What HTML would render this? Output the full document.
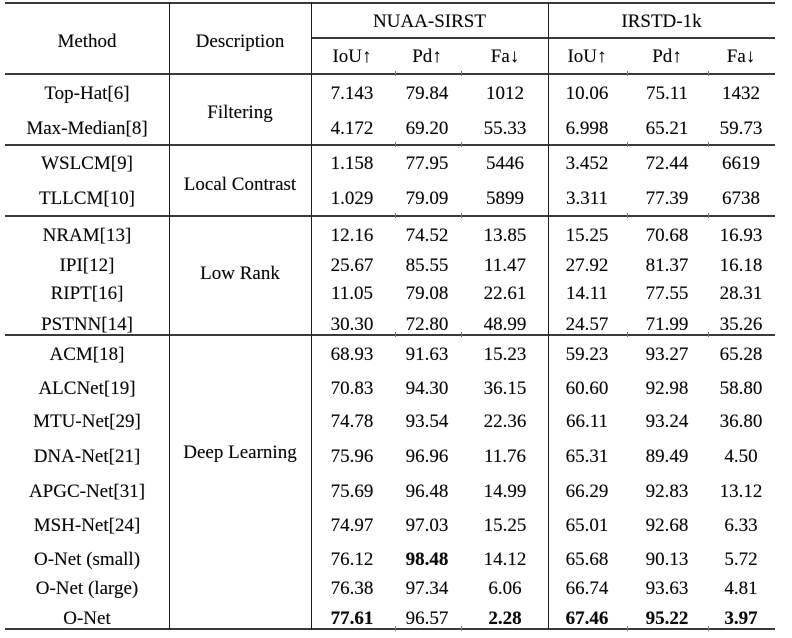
<!DOCTYPE html>
<html><head><meta charset="utf-8">
<style>
html,body{margin:0;padding:0;background:#fff;}
#w{position:relative;width:792px;height:638px;overflow:hidden;background:#fff;font-family:"Liberation Serif",serif;font-size:19px;color:#0a0a0a;}
.t{position:absolute;line-height:19px;height:19px;text-align:center;white-space:nowrap;text-shadow:0 0 0.6px rgba(0,0,0,0.55);}
.h{position:absolute;height:2px;background:#3a3a3a;}
.v{position:absolute;width:1px;background:#1e1e1e;top:2px;height:628px;}
.k{position:absolute;width:1px;height:5px;background:#777;}
b{font-weight:bold;}
</style></head><body><div id="w">
<!-- horizontal rules -->
<div class="h" style="left:5px;width:770px;top:2px;"></div>
<div class="h" style="left:311px;width:464px;top:37px;"></div>
<div class="h" style="left:5px;width:770px;top:73px;"></div>
<div class="h" style="left:5px;width:770px;top:144px;"></div>
<div class="h" style="left:5px;width:770px;top:215px;"></div>
<div class="h" style="left:5px;width:770px;top:334px;"></div>
<div class="h" style="left:5px;width:770px;top:628px;"></div>
<!-- vertical rules -->
<div class="v" style="left:169px;"></div>
<div class="v" style="left:311px;"></div>
<div class="v" style="left:548px;"></div>
<!-- ticks -->
<div class="k" style="left:395px;top:71px"></div><div class="k" style="left:461px;top:71px"></div><div class="k" style="left:627px;top:71px"></div><div class="k" style="left:708px;top:71px"></div>
<div class="k" style="left:395px;top:142px"></div><div class="k" style="left:461px;top:142px"></div><div class="k" style="left:627px;top:142px"></div><div class="k" style="left:708px;top:142px"></div>
<div class="k" style="left:395px;top:213px"></div><div class="k" style="left:461px;top:213px"></div><div class="k" style="left:627px;top:213px"></div><div class="k" style="left:708px;top:213px"></div>
<div class="k" style="left:395px;top:332px"></div><div class="k" style="left:461px;top:332px"></div><div class="k" style="left:627px;top:332px"></div><div class="k" style="left:708px;top:332px"></div>
<div class="k" style="left:395px;top:626px"></div><div class="k" style="left:461px;top:626px"></div><div class="k" style="left:627px;top:626px"></div><div class="k" style="left:708px;top:626px"></div>

<!-- header -->
<div class="t" style="left:5px;width:164px;top:32px;">Method</div>
<div class="t" style="left:169px;width:142px;top:32px;">Description</div>
<div class="t" style="left:311px;width:237px;top:12px;">NUAA-SIRST</div>
<div class="t" style="left:548px;width:227px;top:12px;">IRSTD-1k</div>
<div class="t" style="left:312px;width:80px;top:47px;">IoU↑</div>
<div class="t" style="left:395px;width:64px;top:47px;">Pd↑</div>
<div class="t" style="left:465px;width:80px;top:47px;">Fa↓</div>
<div class="t" style="left:547px;width:80px;top:47px;">IoU↑</div>
<div class="t" style="left:627px;width:80px;top:47px;">Pd↑</div>
<div class="t" style="left:701px;width:80px;top:47px;">Fa↓</div>

<!-- descriptions -->
<div class="t" style="left:169px;width:142px;top:103px;">Filtering</div>
<div class="t" style="left:169px;width:142px;top:175px;">Local Contrast</div>
<div class="t" style="left:169px;width:142px;top:264px;">Low Rank</div>
<div class="t" style="left:169px;width:142px;top:443px;">Deep Learning</div>

<!-- rows -->
<div style="position:absolute;left:0;top:84px;width:792px;height:19px;">
<div class="t" style="left:5px;width:164px;">Top-Hat[6]</div><div class="t" style="left:312px;width:80px;">7.143</div><div class="t" style="left:395px;width:64px;">79.84</div><div class="t" style="left:465px;width:80px;">1012</div><div class="t" style="left:547px;width:80px;">10.06</div><div class="t" style="left:627px;width:80px;">75.11</div><div class="t" style="left:701px;width:80px;">1432</div></div>
<div style="position:absolute;left:0;top:119px;width:792px;height:19px;">
<div class="t" style="left:5px;width:164px;">Max-Median[8]</div><div class="t" style="left:312px;width:80px;">4.172</div><div class="t" style="left:395px;width:64px;">69.20</div><div class="t" style="left:465px;width:80px;">55.33</div><div class="t" style="left:547px;width:80px;">6.998</div><div class="t" style="left:627px;width:80px;">65.21</div><div class="t" style="left:701px;width:80px;">59.73</div></div>
<div style="position:absolute;left:0;top:154px;width:792px;height:19px;">
<div class="t" style="left:5px;width:164px;">WSLCM[9]</div><div class="t" style="left:312px;width:80px;">1.158</div><div class="t" style="left:395px;width:64px;">77.95</div><div class="t" style="left:465px;width:80px;">5446</div><div class="t" style="left:547px;width:80px;">3.452</div><div class="t" style="left:627px;width:80px;">72.44</div><div class="t" style="left:701px;width:80px;">6619</div></div>
<div style="position:absolute;left:0;top:189px;width:792px;height:19px;">
<div class="t" style="left:5px;width:164px;">TLLCM[10]</div><div class="t" style="left:312px;width:80px;">1.029</div><div class="t" style="left:395px;width:64px;">79.09</div><div class="t" style="left:465px;width:80px;">5899</div><div class="t" style="left:547px;width:80px;">3.311</div><div class="t" style="left:627px;width:80px;">77.39</div><div class="t" style="left:701px;width:80px;">6738</div></div>
<div style="position:absolute;left:0;top:226px;width:792px;height:19px;">
<div class="t" style="left:5px;width:164px;">NRAM[13]</div><div class="t" style="left:312px;width:80px;">12.16</div><div class="t" style="left:395px;width:64px;">74.52</div><div class="t" style="left:465px;width:80px;">13.85</div><div class="t" style="left:547px;width:80px;">15.25</div><div class="t" style="left:627px;width:80px;">70.68</div><div class="t" style="left:701px;width:80px;">16.93</div></div>
<div style="position:absolute;left:0;top:256px;width:792px;height:19px;">
<div class="t" style="left:5px;width:164px;">IPI[12]</div><div class="t" style="left:312px;width:80px;">25.67</div><div class="t" style="left:395px;width:64px;">85.55</div><div class="t" style="left:465px;width:80px;">11.47</div><div class="t" style="left:547px;width:80px;">27.92</div><div class="t" style="left:627px;width:80px;">81.37</div><div class="t" style="left:701px;width:80px;">16.18</div></div>
<div style="position:absolute;left:0;top:284px;width:792px;height:19px;">
<div class="t" style="left:5px;width:164px;">RIPT[16]</div><div class="t" style="left:312px;width:80px;">11.05</div><div class="t" style="left:395px;width:64px;">79.08</div><div class="t" style="left:465px;width:80px;">22.61</div><div class="t" style="left:547px;width:80px;">14.11</div><div class="t" style="left:627px;width:80px;">77.55</div><div class="t" style="left:701px;width:80px;">28.31</div></div>
<div style="position:absolute;left:0;top:315px;width:792px;height:19px;">
<div class="t" style="left:5px;width:164px;">PSTNN[14]</div><div class="t" style="left:312px;width:80px;">30.30</div><div class="t" style="left:395px;width:64px;">72.80</div><div class="t" style="left:465px;width:80px;">48.99</div><div class="t" style="left:547px;width:80px;">24.57</div><div class="t" style="left:627px;width:80px;">71.99</div><div class="t" style="left:701px;width:80px;">35.26</div></div>
<div style="position:absolute;left:0;top:345px;width:792px;height:19px;">
<div class="t" style="left:5px;width:164px;">ACM[18]</div><div class="t" style="left:312px;width:80px;">68.93</div><div class="t" style="left:395px;width:64px;">91.63</div><div class="t" style="left:465px;width:80px;">15.23</div><div class="t" style="left:547px;width:80px;">59.23</div><div class="t" style="left:627px;width:80px;">93.27</div><div class="t" style="left:701px;width:80px;">65.28</div></div>
<div style="position:absolute;left:0;top:379px;width:792px;height:19px;">
<div class="t" style="left:5px;width:164px;">ALCNet[19]</div><div class="t" style="left:312px;width:80px;">70.83</div><div class="t" style="left:395px;width:64px;">94.30</div><div class="t" style="left:465px;width:80px;">36.15</div><div class="t" style="left:547px;width:80px;">60.60</div><div class="t" style="left:627px;width:80px;">92.98</div><div class="t" style="left:701px;width:80px;">58.80</div></div>
<div style="position:absolute;left:0;top:412px;width:792px;height:19px;">
<div class="t" style="left:5px;width:164px;">MTU-Net[29]</div><div class="t" style="left:312px;width:80px;">74.78</div><div class="t" style="left:395px;width:64px;">93.54</div><div class="t" style="left:465px;width:80px;">22.36</div><div class="t" style="left:547px;width:80px;">66.11</div><div class="t" style="left:627px;width:80px;">93.24</div><div class="t" style="left:701px;width:80px;">36.80</div></div>
<div style="position:absolute;left:0;top:447px;width:792px;height:19px;">
<div class="t" style="left:5px;width:164px;">DNA-Net[21]</div><div class="t" style="left:312px;width:80px;">75.96</div><div class="t" style="left:395px;width:64px;">96.96</div><div class="t" style="left:465px;width:80px;">11.76</div><div class="t" style="left:547px;width:80px;">65.31</div><div class="t" style="left:627px;width:80px;">89.49</div><div class="t" style="left:701px;width:80px;">4.50</div></div>
<div style="position:absolute;left:0;top:482px;width:792px;height:19px;">
<div class="t" style="left:5px;width:164px;">APGC-Net[31]</div><div class="t" style="left:312px;width:80px;">75.69</div><div class="t" style="left:395px;width:64px;">96.48</div><div class="t" style="left:465px;width:80px;">14.99</div><div class="t" style="left:547px;width:80px;">66.29</div><div class="t" style="left:627px;width:80px;">92.83</div><div class="t" style="left:701px;width:80px;">13.12</div></div>
<div style="position:absolute;left:0;top:516px;width:792px;height:19px;">
<div class="t" style="left:5px;width:164px;">MSH-Net[24]</div><div class="t" style="left:312px;width:80px;">74.97</div><div class="t" style="left:395px;width:64px;">97.03</div><div class="t" style="left:465px;width:80px;">15.25</div><div class="t" style="left:547px;width:80px;">65.01</div><div class="t" style="left:627px;width:80px;">92.68</div><div class="t" style="left:701px;width:80px;">6.33</div></div>
<div style="position:absolute;left:0;top:550px;width:792px;height:19px;">
<div class="t" style="left:5px;width:164px;">O-Net (small)</div><div class="t" style="left:312px;width:80px;">76.12</div><div class="t" style="left:395px;width:64px;"><b>98.48</b></div><div class="t" style="left:465px;width:80px;">14.12</div><div class="t" style="left:547px;width:80px;">65.68</div><div class="t" style="left:627px;width:80px;">90.13</div><div class="t" style="left:701px;width:80px;">5.72</div></div>
<div style="position:absolute;left:0;top:579px;width:792px;height:19px;">
<div class="t" style="left:5px;width:164px;">O-Net (large)</div><div class="t" style="left:312px;width:80px;">76.38</div><div class="t" style="left:395px;width:64px;">97.34</div><div class="t" style="left:465px;width:80px;">6.06</div><div class="t" style="left:547px;width:80px;">66.74</div><div class="t" style="left:627px;width:80px;">93.63</div><div class="t" style="left:701px;width:80px;">4.81</div></div>
<div style="position:absolute;left:0;top:609px;width:792px;height:19px;">
<div class="t" style="left:5px;width:164px;">O-Net</div><div class="t" style="left:312px;width:80px;"><b>77.61</b></div><div class="t" style="left:395px;width:64px;">96.57</div><div class="t" style="left:465px;width:80px;"><b>2.28</b></div><div class="t" style="left:547px;width:80px;"><b>67.46</b></div><div class="t" style="left:627px;width:80px;"><b>95.22</b></div><div class="t" style="left:701px;width:80px;"><b>3.97</b></div></div>
</div></body></html>
